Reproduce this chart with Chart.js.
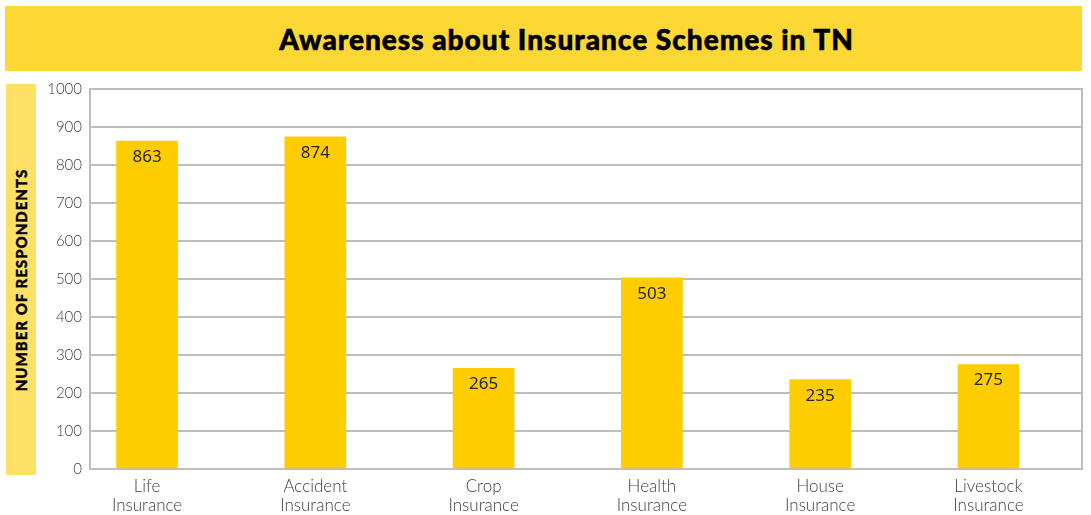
<!DOCTYPE html>
<html>
<head>
<meta charset="utf-8">
<script src="https://cdn.jsdelivr.net/npm/chart.js@4/dist/chart.umd.min.js"></script>
<style>
  html, body { margin: 0; padding: 0; background: #ffffff; }
  body { width: 1091px; height: 515px; position: relative; overflow: hidden; }
  #titleBand {
    position: absolute; left: 5px; top: 6px; width: 1077px; height: 65px;
    background: #fdd835; display: flex; align-items: center; justify-content: center;
    box-sizing: border-box; padding-left: 46px;
    font-family: Lato, "DejaVu Sans", sans-serif; font-weight: 900; font-size: 28px;
    letter-spacing: 1px; color: #000; -webkit-text-stroke: 0.6px #000;
  }
  #yBand {
    position: absolute; left: 6px; top: 84px; width: 30px; height: 391px;
    background: #ffe066;
  }
  #yTitle {
    position: absolute; left: 21px; top: 280px; transform: translate(-50%, -50%) rotate(-90deg);
    white-space: nowrap; font-family: Lato, "DejaVu Sans", sans-serif; font-weight: 900;
    font-size: 15px; color: #000; letter-spacing: 1px; -webkit-text-stroke: 0.4px #000;
  }
  #wrap { position: absolute; left: 0; top: 0; width: 1091px; height: 515px; }
</style>
</head>
<body>
<div id="titleBand">Awareness about Insurance Schemes in TN</div>
<div id="yBand"></div>
<div id="yTitle">NUMBER OF RESPONDENTS</div>
<div id="wrap"><canvas id="chart" width="1091" height="515"></canvas></div>
<script>
// Insurance schemes and how many respondents were aware of each
const categories = [
  ['Life', 'Insurance'],
  ['Accident', 'Insurance'],
  ['Crop', 'Insurance'],
  ['Health', 'Insurance'],
  ['House', 'Insurance'],
  ['Livestock', 'Insurance']
];
const respondents = [863, 874, 265, 503, 235, 275];
const yTicks = [0, 100, 200, 300, 400, 500, 600, 700, 800, 900, 1000];

const points = respondents.map((v, i) => ({ x: i, y: v }));

// Writes each bar's value just inside its top edge
const barValues = {
  id: 'barValues',
  afterDatasetsDraw(chart) {
    const ctx = chart.ctx;
    const meta = chart.getDatasetMeta(0);
    ctx.save();
    ctx.font = '17px "Noto Sans", "Open Sans", sans-serif';
    ctx.fillStyle = '#262626';
    ctx.textAlign = 'center';
    ctx.textBaseline = 'middle';
    meta.data.forEach((bar, i) => {
      ctx.fillText(String(respondents[i]), bar.x, bar.y + 16);
    });
    ctx.restore();
  }
};

const gridGrey = '#bdbdbd';

new Chart(document.getElementById('chart'), {
  type: 'bar',
  data: {
    datasets: [{
      data: points,
      backgroundColor: '#ffcc00',
      borderWidth: 0,
      barThickness: 61
    }]
  },
  options: {
    responsive: false,
    animation: false,
    events: [],
    layout: { padding: { top: 89, left: 0, right: 0, bottom: 0 } },
    plugins: { legend: { display: false }, tooltip: { enabled: false }, title: { display: false } },
    scales: {
      x: {
        type: 'linear',
        offset: false,
        min: -0.339,
        max: 5.556,
        grid: { display: false, drawTicks: false, offset: false },
        border: { display: true, color: gridGrey, width: 2 },
        afterBuildTicks(scale) {
          scale.ticks = categories.map((c, i) => ({ value: i }));
        },
        ticks: {
          autoSkip: false,
          maxRotation: 0,
          padding: 8,
          color: '#404040',
          font: { family: 'Lato, "Open Sans", sans-serif', size: 17, weight: 300, lineHeight: 1.1 },
          callback: (v) => categories[v]
        },
        afterFit(scale) { scale.height = 46; }
      },
      y: {
        min: 0,
        max: 1000,
        afterBuildTicks(scale) {
          scale.ticks = yTicks.map(v => ({ value: v }));
        },
        grid: { color: gridGrey, lineWidth: 2, drawTicks: false },
        border: { display: true, color: gridGrey, width: 2 },
        ticks: {
          padding: 8,
          color: '#404040',
          font: { family: 'Lato, "Open Sans", sans-serif', size: 15, weight: 300 },
          callback: (v) => String(v)
        },
        afterFit(scale) { scale.width = 90; }
      },
      yRight: {
        position: 'right',
        min: 0,
        max: 1000,
        grid: { drawOnChartArea: false, drawTicks: false },
        border: { display: true, color: gridGrey, width: 2 },
        ticks: { display: false },
        afterFit(scale) { scale.width = 9; }
      }
    }
  },
  plugins: [barValues]
});
</script>
</body>
</html>
